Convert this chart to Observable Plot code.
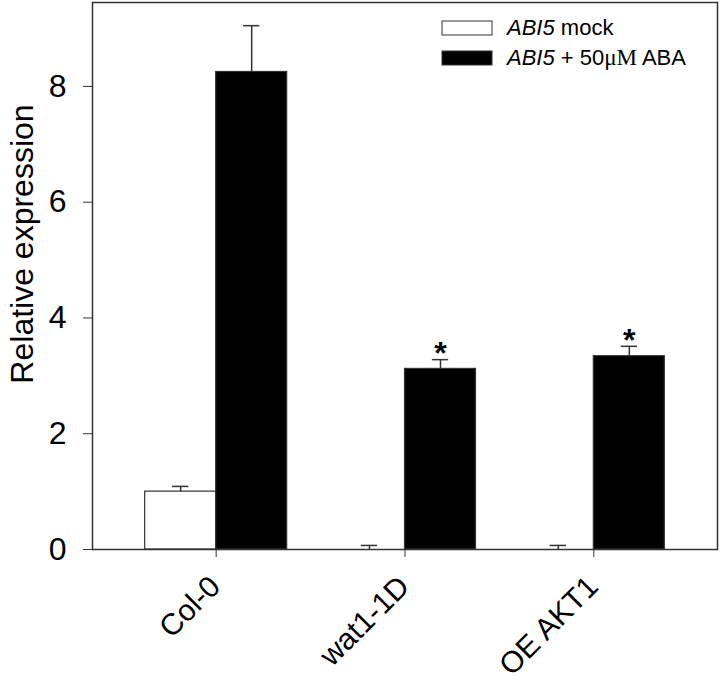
<!DOCTYPE html>
<html>
<head>
<meta charset="utf-8">
<script src="https://cdn.jsdelivr.net/npm/d3@7"></script>
<script src="https://cdn.jsdelivr.net/npm/@observablehq/plot@0.6"></script>
<style>
  html, body { margin: 0; padding: 0; background: #fff; }
  #chart { position: relative; width: 720px; height: 683px; }
</style>
</head>
<body>
<div id="chart"></div>
<script>
const groups = ["Col-0", "wat1-1D", "OE AKT1"];
const seriesNames = ["mock", "ABA"];
const mockMean = [1.0, 0.0, 0.0];
const mockErr = [0.09, 0.07, 0.07];
const abaMean = [8.25, 3.12, 3.34];
const abaErr = [0.8, 0.16, 0.17];
const signif = ["", "*", "*"];
const yTicks = [0, 2, 4, 6, 8];
const yLabel = "Relative expression";

const W = 0.376;   // bar width in group units
const CAP = 0.043; // half cap width

const rows = [];
groups.forEach((g, i) => {
  rows.push({g, i, s: "mock", x1: i - W, x2: i, xc: i - W / 2, v: mockMean[i], e: mockErr[i], sig: ""});
  rows.push({g, i, s: "ABA", x1: i, x2: i + W, xc: i + W / 2, v: abaMean[i], e: abaErr[i], sig: signif[i]});
});

const chart = Plot.plot({
  width: 720,
  height: 683,
  marginLeft: 92,
  marginRight: 3,
  marginTop: 2,
  marginBottom: 134,
  style: {fontFamily: "'Liberation Sans', Arial, sans-serif", fontSize: "30px", color: "#000", background: "#fff"},
  x: {domain: [-0.655, 2.655]},
  y: {domain: [0, 9.45]},
  marks: [
    Plot.rectY(rows, {x1: "x1", x2: "x2", y1: 0, y2: "v", fill: d => d.s === "mock" ? "#fff" : "#000", stroke: "#333", strokeWidth: 1.2}),
    Plot.ruleX(rows, {x: "xc", y1: "v", y2: d => d.v + d.e, stroke: "#333", strokeWidth: 1.5}),
    Plot.ruleY(rows, {y: d => d.v + d.e, x1: d => d.xc - CAP, x2: d => d.xc + CAP, stroke: "#333", strokeWidth: 1.5}),
    Plot.text(rows.filter(d => d.sig), {x: "xc", y: d => d.v + d.e, text: "sig", dy: -6, fontSize: 32, fontWeight: "bold", fill: "#000"}),
    Plot.frame({stroke: "#333", strokeWidth: 1.5}),
    Plot.axisY({ticks: yTicks, tickSize: 9, tickPadding: 17, fontSize: 32, label: null, stroke: "#333", fill: "#000"}),
    Plot.axisX({ticks: [0, 1, 2], tickSize: 8, tickFormat: () => "", label: null, stroke: "#333"}),
    Plot.text(groups, {x: (d, i) => i, frameAnchor: "bottom", rotate: -45, textAnchor: "end", lineAnchor: "bottom", dx: 6, dy: 39, fontSize: 30, fill: "#000"}),
    Plot.text([yLabel], {frameAnchor: "left", rotate: -90, textAnchor: "middle", dx: -70, dy: -32, fontSize: 32, fill: "#000"})
  ]
});

document.getElementById("chart").appendChild(chart);

// Legend inside the plot, top-right
const svg = d3.select(chart);
const leg = svg.append("g")
  .attr("font-family", "'Liberation Sans', Arial, sans-serif")
  .attr("font-size", 22)
  .attr("text-anchor", "start");
const legendItems = [
  {fill: "#fff", y: 21, rest: " mock"},
  {fill: "#000", y: 51, rest: " + 50"}
];
legendItems.forEach((it, k) => {
  leg.append("rect").attr("x", 442).attr("y", it.y).attr("width", 50).attr("height", 14)
    .attr("fill", it.fill).attr("stroke", "#333").attr("stroke-width", 1);
  const t = leg.append("text").attr("x", 507).attr("y", it.y + 14).attr("fill", "#000");
  t.append("tspan").attr("font-style", "italic").text("ABI5");
  t.append("tspan").text(it.rest);
  if (k === 1) {
    t.append("tspan").attr("font-family", "'Liberation Serif', 'Times New Roman', serif").attr("font-size", 23).text("\u03BCM");
    t.append("tspan").text(" ABA");
  }
});
</script>
</body>
</html>
